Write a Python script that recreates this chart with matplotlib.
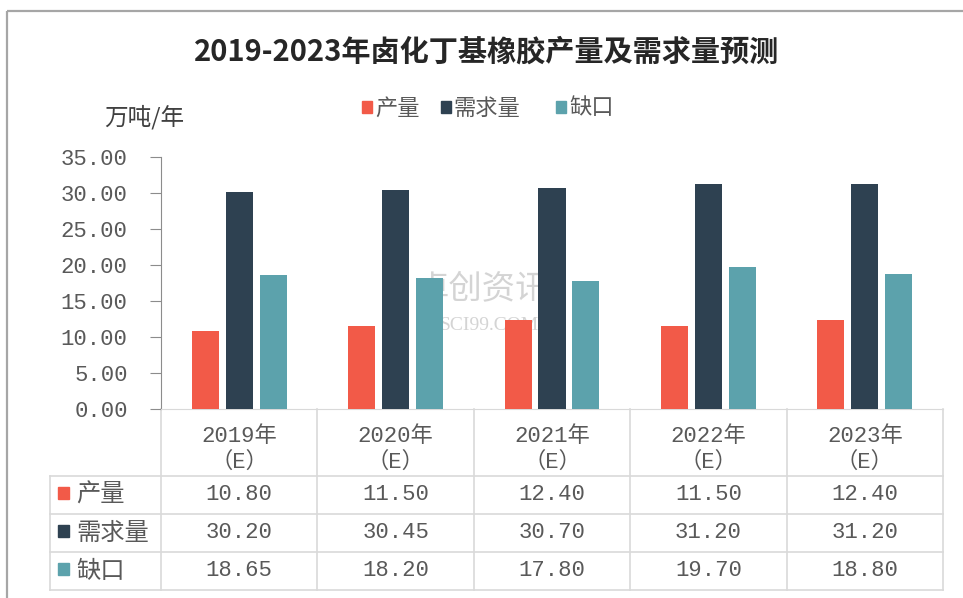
import numpy as np
import matplotlib.pyplot as plt
import matplotlib.transforms as mtransforms
from matplotlib.patches import Rectangle
from matplotlib.lines import Line2D

years = ['2019年', '2020年', '2021年', '2022年', '2023年']
series_names = ['产量', '需求量', '缺口']
output = [10.80, 11.50, 12.40, 11.50, 12.40]
demand = [30.20, 30.45, 30.70, 31.20, 31.20]
gap = [18.65, 18.20, 17.80, 19.70, 18.80]
yticks = [0, 5, 10, 15, 20, 25, 30, 35]

colors = ['#F25A48', '#2E4151', '#5CA2AC']
txt = '#595959'
grid_c = '#D9D9D9'
mono = ['Liberation Mono', 'Noto Sans CJK SC']
cjk = ['Noto Sans CJK SC', 'DejaVu Sans']

W, H = 963, 598
fig = plt.figure(figsize=(W / 100, H / 100), dpi=100)

# overlay axes in pixel coordinates (frame, table)
ax_t = fig.add_axes([0, 0, 1, 1])
ax_t.set_xlim(0, W)
ax_t.set_ylim(H, 0)
ax_t.axis('off')

# outer frame
ax_t.add_patch(Rectangle((7, 11), W + 20, H + 20, fill=False, ec='#A6A6A6', lw=1.6))

# main bar axes
x0, x1, ybase, ytop = 161, 943, 409, 157
ax = fig.add_axes([x0 / W, (H - ybase) / H, (x1 - x0) / W, (ybase - ytop) / H])
ax.patch.set_alpha(0)
x = np.arange(len(years))
bw, step = 0.173, 0.217
for k, vals in enumerate([output, demand, gap]):
    ax.bar(x + (k - 1) * step, vals, width=bw, color=colors[k], zorder=3)
ax.set_xlim(-0.5, len(years) - 0.5)
ax.set_ylim(0, 35)
ax.set_yticks(yticks)
ax.set_yticklabels(['%.2f' % v for v in yticks], family=mono, fontsize=16, color=txt)
ax.set_xticks([])
for s in ['top', 'right']:
    ax.spines[s].set_visible(False)
ax.spines['left'].set_color('#8C8C8C')
ax.spines['bottom'].set_color(grid_c)
ax.tick_params(axis='y', direction='out', length=8, color='#8C8C8C', pad=16)

# watermark (behind the bars)
ax.text(1.55, 16.6, '卓创资讯', family=cjk, fontsize=24, color='#D4D4D4', ha='center',
        va='center', zorder=1)
ax.text(1.6, 11.6, 'SCI99.COM', family=['Liberation Serif'], fontsize=14, color='#D4D4D4',
        ha='center', va='center', zorder=1)

# title, unit, legend
ax_t.text(487, 52, '2019-2023年卤化丁基橡胶产量及需求量预测', family=cjk, fontsize=21,
          fontweight='bold', color='#262626', ha='center', va='center')
ax_t.text(104, 117, '万吨/年', family=cjk, fontsize=17, color='#404040', ha='left', va='center')
lx = [362, 441, 556]
for k, name in enumerate(series_names):
    ax_t.add_patch(Rectangle((lx[k], 101), 10, 12, color=colors[k]))
    ax_t.text(lx[k] + 13, 108, name, family=cjk, fontsize=16, color=txt, ha='left', va='center')

# data table
rows_y = [476, 514, 552, 590]
tl = dict(color=grid_c, lw=1.2)
for y in rows_y:
    ax_t.add_line(Line2D([50, x1], [y, y], **tl))
ax_t.add_line(Line2D([50, 50], [rows_y[0], rows_y[-1]], **tl))
colw = (x1 - x0) / len(years)
for i in range(len(years) + 1):
    ax_t.add_line(Line2D([x0 + i * colw] * 2, [ybase, rows_y[-1]], **tl))

trans = mtransforms.blended_transform_factory(ax.transData, ax_t.transData)
for i, yr in enumerate(years):
    ax_t.text(i, 436, yr, family=mono, fontsize=16, color=txt, ha='center', va='center',
              transform=trans)
    ax_t.text(i, 462, '（E）', family=mono, fontsize=16, color=txt, ha='center', va='center',
              transform=trans)
for r, vals in enumerate([output, demand, gap]):
    cy = (rows_y[r] + rows_y[r + 1]) / 2
    ax_t.add_patch(Rectangle((58, cy - 8), 11, 12, color=colors[r]))
    ax_t.text(76, cy, series_names[r], family=cjk, fontsize=17.5, color=txt, ha='left',
              va='center')
    for i, v in enumerate(vals):
        ax_t.text(i, cy, '%.2f' % v, family=mono, fontsize=16, color=txt, ha='center',
                  va='center', transform=trans)

fig.savefig('out.png', dpi=100)
